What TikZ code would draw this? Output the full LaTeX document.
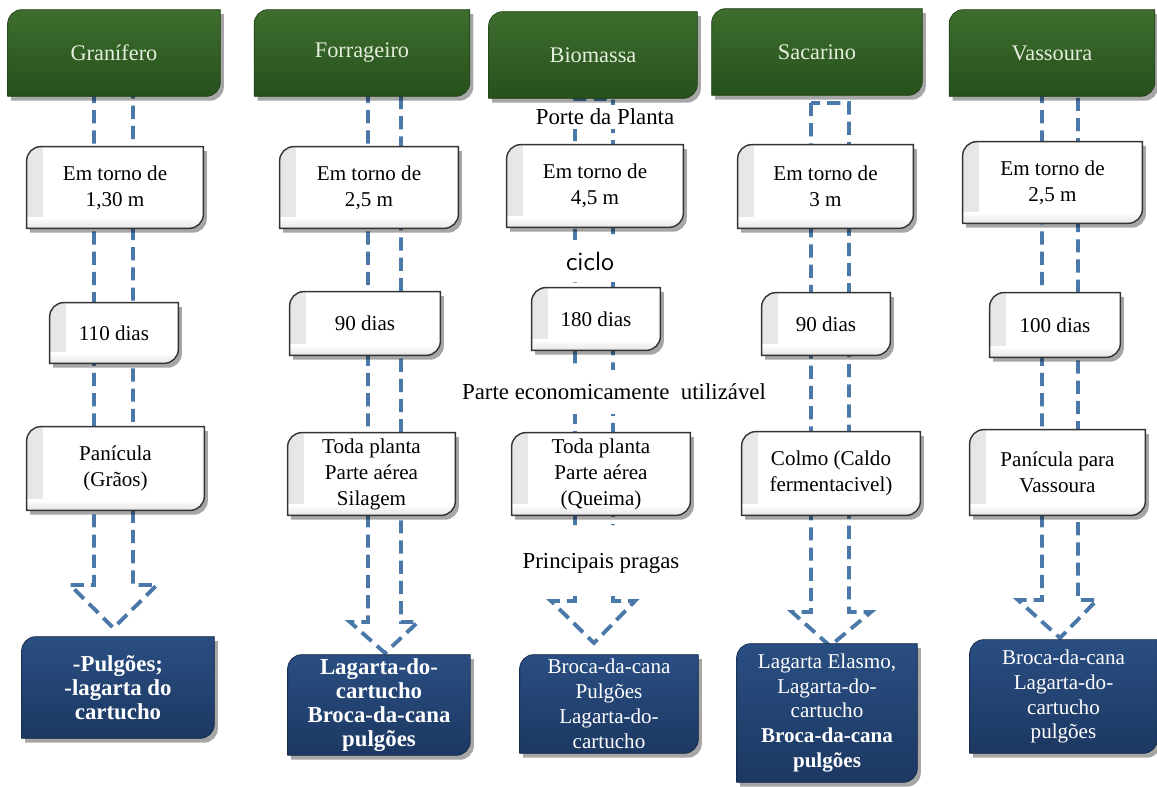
\documentclass[tikz,border=0pt]{standalone}
\usepackage{fontspec}
\setmainfont{Liberation Serif}
\usetikzlibrary{shadows}
\definecolor{hdrtop}{HTML}{3E6E2E}
\definecolor{hdrbot}{HTML}{27501C}
\definecolor{hdrtext}{HTML}{E4EEDC}
\definecolor{pesttop}{HTML}{2A4E82}
\definecolor{pestbot}{HTML}{1C3862}
\definecolor{dashblue}{HTML}{4A78A8}
\pgfdeclarelayer{arrowlayer}
\pgfdeclarelayer{shapelayer}
\pgfsetlayers{arrowlayer,shapelayer,main}
\tikzset{
	header/.style={font=\fontsize{12.7}{15}\selectfont, text=hdrtext, align=center, inner sep=0pt, minimum height=1.72cm},
	info/.style={font=\fontsize{12}{14.8}\selectfont, align=center, inner sep=0pt},
	pest/.style={font=\fontsize{12}{14.2}\selectfont, text=white, align=center, inner sep=0pt},
	pestbold/.style={pest, font=\fontsize{13}{13.8}\selectfont\bfseries},
	tag/.style={font=\fontsize{13}{15}\selectfont, fill=white, inner sep=1pt},
	boxshadow/.style={drop shadow={shadow xshift=2pt, shadow yshift=-2.5pt, opacity=0.35, fill=black}},
	greenbox/.style={boxshadow, top color=hdrtop, bottom color=hdrbot, draw=hdrbot!80!black, line width=0.4pt},
	whitebox/.style={boxshadow, fill=white, draw=black!80, line width=0.8pt,
		path picture={
			\shade[left color=black!10, right color=white] (path picture bounding box.south west) rectangle ([xshift=9pt]path picture bounding box.north west);
			\shade[bottom color=black!10, top color=white] (path picture bounding box.south west) rectangle ([yshift=6pt]path picture bounding box.south east);
		}},
	bluebox/.style={boxshadow, top color=pesttop, bottom color=pestbot, draw=pestbot!70!black, line width=0.4pt},
	dasharrow/.style={draw=dashblue, line width=2.2pt, dash pattern=on 7.5pt off 4pt}
}
% box with rounded top-left and bottom-right corners
\newcommand{\cornerbox}[2]{%
	\path[#2] ([yshift=-8pt]#1.north west) arc[start angle=180, end angle=90, radius=8pt]
		-- (#1.north east) -- ([yshift=8pt]#1.south east) arc[start angle=0, end angle=-90, radius=8pt]
		-- (#1.south west) -- cycle;}

\begin{document}
\begin{tikzpicture}[x=0.02cm, y=0.02cm]
	\useasboundingbox (0,0) rectangle (1157,-787);

	% --- Headers ---
	\node[header, minimum width=4.24cm] (gh) at (114,-53) {Granífero};
	\node[header, minimum width=4.30cm] (fh) at (362,-53) {Forrageiro};
	\node[header, minimum width=4.16cm] (bh) at (593,-55) {Biomassa};
	\node[header, minimum width=4.20cm] (sh) at (817,-52) {Sacarino};
	\node[header, minimum width=4.10cm] (vh) at (1052,-53) {Vassoura};

	% --- Porte da planta ---
	\node[info, minimum width=3.52cm, minimum height=1.62cm] (g1) at (115,-187.5) {Em torno de\\1,30 m};
	\node[info, minimum width=3.56cm, minimum height=1.62cm] (f1) at (369,-187.5) {Em torno de\\2,5 m};
	\node[info, minimum width=3.52cm, minimum height=1.64cm] (b1) at (595,-186) {Em torno de\\4,5 m};
	\node[info, minimum width=3.50cm, minimum height=1.66cm] (s1) at (825.5,-186.5) {Em torno de\\3 m};
	\node[info, minimum width=3.58cm, minimum height=1.62cm] (v1) at (1052.5,-182.5) {Em torno de\\2,5 m};

	% --- Ciclo ---
	\node[info, minimum width=2.56cm, minimum height=1.20cm] (g2) at (114,-333) {110 dias};
	\node[info, minimum width=3.00cm, minimum height=1.26cm] (f2) at (365,-323.5) {90 dias};
	\node[info, minimum width=2.56cm, minimum height=1.24cm] (b2) at (596,-319) {180 dias};
	\node[info, minimum width=2.56cm, minimum height=1.24cm] (s2) at (826,-324) {90 dias};
	\node[info, minimum width=2.60cm, minimum height=1.28cm] (v2) at (1055,-325) {100 dias};

	% --- Parte utilizavel ---
	\node[info, minimum width=3.54cm, minimum height=1.66cm] (g3) at (115.5,-468.5) {Panícula\\(Grãos)};
	\node[info, minimum width=3.34cm, minimum height=1.64cm] (f3) at (371.5,-474) {Toda planta\\Parte aérea\\Silagem};
	\node[info, minimum width=3.56cm, minimum height=1.64cm] (b3) at (601,-474) {Toda planta\\Parte aérea\\(Queima)};
	\node[info, minimum width=3.56cm, minimum height=1.66cm] (s3) at (831,-473.5) {Colmo (Caldo\\fermentacivel)};
	\node[info, minimum width=3.50cm, minimum height=1.70cm] (v3) at (1057.5,-472.5) {Panícula para\\Vassoura};

	% --- Pragas ---
	\node[pestbold, minimum width=3.84cm, minimum height=2.02cm] (g4) at (118,-687.5) {-Pulgões;\\-lagarta do\\cartucho};
	\node[pestbold, minimum width=3.64cm, minimum height=2.00cm] (f4) at (379,-705) {Lagarta-do-\\cartucho\\Broca-da-cana\\pulgões};
	\node[pest, minimum width=3.56cm, minimum height=1.96cm] (b4) at (609,-704) {Broca-da-cana\\Pulgões\\Lagarta-do-\\cartucho};
	\node[pest, minimum width=3.60cm, minimum height=2.76cm] (s4) at (827,-713) {Lagarta Elasmo,\\Lagarta-do-\\cartucho\\\textbf{Broca-da-cana}\\\textbf{pulgões}};
	\node[pest, minimum width=3.74cm, minimum height=2.26cm] (v4) at (1063.5,-696.5) {Broca-da-cana\\Lagarta-do-\\cartucho\\pulgões};

	% --- Labels ---
	\node[tag, minimum height=0.48cm] (lporte) at (605,-117) {Porte da Planta};
	\node[tag, font=\sffamily\fontsize{15}{17}\selectfont, minimum height=0.84cm] (lciclo) at (590,-261) {ciclo};
	\node[tag, minimum height=0.90cm] (lparte) at (614,-392) {Parte economicamente\ \ utilizável};
	\node[tag] (lpragas) at (601,-563) {Principais pragas};

	% --- Box shapes ---
	\begin{pgfonlayer}{shapelayer}
		\foreach \n in {gh,fh,bh,sh,vh} \cornerbox{\n}{greenbox};
		\foreach \n in {g1,f1,b1,s1,v1,g2,f2,b2,s2,v2,g3,f3,b3,s3,v3} \cornerbox{\n}{whitebox};
		\foreach \n in {g4,f4,b4,s4,v4} \cornerbox{\n}{bluebox};
	\end{pgfonlayer}

	% --- Dashed block arrows ---
	\begin{pgfonlayer}{arrowlayer}
		\foreach \l/\r/\t/\b/\el/\er/\tx/\ty in {94/133/-90/-585/70/157/113.5/-628, 368/401/-90/-622/350/418/385/-653, 811/849/-103/-612/792/871/830/-646, 1042/1078/-90/-600/1018/1097/1060/-638}
			\draw[dasharrow] (\l,\t) -- (\l,\b) -- (\el,\b) -- (\tx,\ty) -- (\er,\b) -- (\r,\b) -- (\r,\t) -- cycle;
		% Biomassa: shaft stops under the third box
		\draw[dasharrow] (575,-525) -- (575,-99) -- (613,-99) -- (613,-525)
			(575,-596) -- (575,-601) -- (551,-601) -- (594,-643) -- (635,-601) -- (613,-601) -- (613,-596);
	\end{pgfonlayer}
\end{tikzpicture}
\end{document}
